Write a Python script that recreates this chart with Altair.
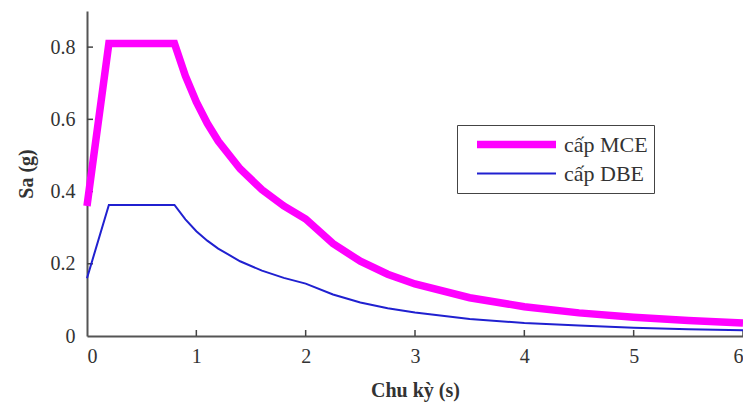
import altair as alt
import pandas as pd

# Period (s)
T = [0.0, 0.2, 0.8, 0.9, 1.0, 1.1, 1.2, 1.4, 1.6, 1.8, 2.0, 2.25, 2.5, 2.75,
     3.0, 3.5, 4.0, 4.5, 5.0, 5.5, 6.0]
# Spectral acceleration (g)
sa_mce = [0.36, 0.81, 0.81, 0.72, 0.648, 0.589, 0.54, 0.463, 0.405, 0.36, 0.324,
          0.256, 0.207, 0.171, 0.144, 0.106, 0.081, 0.064, 0.052, 0.043, 0.036]
sa_dbe = [0.16, 0.363, 0.363, 0.323, 0.29, 0.264, 0.242, 0.207, 0.181, 0.161, 0.145,
          0.115, 0.093, 0.077, 0.065, 0.047, 0.036, 0.029, 0.023, 0.019, 0.016]
series = ["cấp MCE", "cấp DBE"]
x_ticks = [1, 2, 3, 4, 5, 6]
y_ticks = [0.2, 0.4, 0.6, 0.8]

rows = []
for name, vals in zip(series, [sa_mce, sa_dbe]):
    for t, v in zip(T, vals):
        rows.append({"T": t, "Sa": v, "series": name})
df = pd.DataFrame(rows)

FONT = "Liberation Serif"
W, H = 656, 325

x_scale = alt.Scale(domain=[0, 6], nice=False, zero=False)
y_scale = alt.Scale(domain=[0, 0.9], nice=False)

lines = alt.Chart(df).mark_line(strokeCap="butt", strokeJoin="miter").encode(
    x=alt.X("T:Q", scale=x_scale, title="Chu kỳ (s)",
            axis=alt.Axis(values=[0, 1, 2, 3, 4, 5, 6], format="d")),
    y=alt.Y("Sa:Q", scale=y_scale, title="Sa (g)",
            axis=alt.Axis(values=[0, 0.2, 0.4, 0.6, 0.8],
                          labelExpr="datum.value == 0 ? '0' : format(datum.value, '.1f')")),
    color=alt.Color("series:N", sort=series,
                    scale=alt.Scale(domain=series, range=["#ff00ff", "#2020d0"]),
                    legend=alt.Legend(title=None, orient="none", legendX=370, legendY=114,
                                      symbolType="stroke", symbolSize=6241,
                                      clipHeight=27, symbolOffset=10,
                                      labelFont=FONT, labelFontSize=22, labelColor="#333",
                                      labelOffset=4, rowPadding=2, padding=6,
                                      strokeColor="#444", fillColor="white")),
    strokeWidth=alt.StrokeWidth("series:N", sort=series,
                                scale=alt.Scale(domain=series, range=[7.5, 2])),
    order=alt.Order("T:Q"),
)

xt = alt.Chart(pd.DataFrame({"v": x_ticks})).mark_rule(color="#444", strokeWidth=1.5).encode(
    x=alt.X("v:Q", scale=x_scale), y=alt.value(H), y2=alt.value(H - 6))
yt = alt.Chart(pd.DataFrame({"v": y_ticks})).mark_rule(color="#444", strokeWidth=1.5).encode(
    y=alt.Y("v:Q", scale=y_scale), x=alt.value(0), x2=alt.value(6))

chart = alt.layer(xt, yt, lines).properties(
    width=W, height=H,
    autosize=alt.AutoSizeParams(type="none"),
    padding={"left": 79, "top": 3, "right": 0, "bottom": 66},
).configure_view(stroke=None).configure_axis(
    grid=False, domainColor="#555", domainWidth=2, ticks=False,
    labelFont=FONT, labelFontSize=20, labelColor="#333",
    titleFont=FONT, titleFontSize=20, titleFontWeight="bold", titleColor="#333",
).configure_axisX(labelPadding=10, titlePadding=14).configure_axisY(labelPadding=12, titlePadding=14)

chart.save("out.html", embed_options={"renderer": "svg", "actions": False})
